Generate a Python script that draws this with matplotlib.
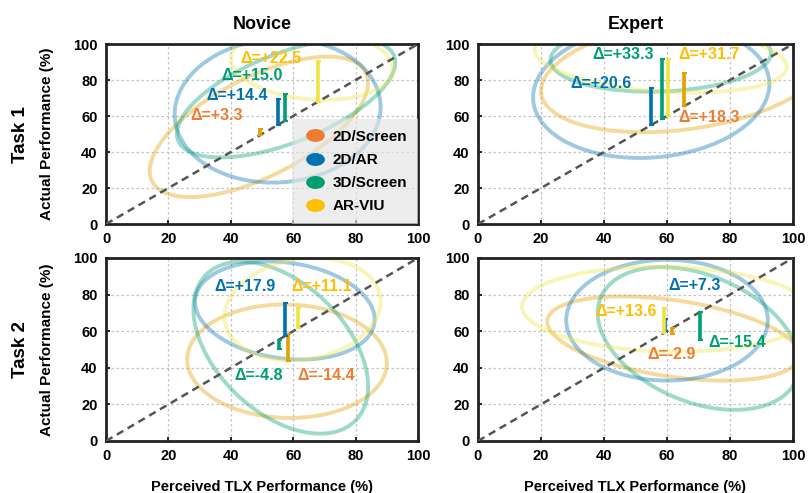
import matplotlib
matplotlib.use("Agg")
import matplotlib.pyplot as plt
import numpy as np
from matplotlib.patches import Ellipse
from matplotlib.path import Path
from matplotlib.lines import Line2D

plt.rcParams['font.family'] = ['Liberation Sans', 'DejaVu Sans']
plt.rcParams['font.weight'] = 'bold'

# groups and colours
groups = ['2D/Screen', '2D/AR', '3D/Screen', 'AR-VIU']
mark_colors = ['#E69F00', '#0072B2', '#009E73', '#F0E442']
text_colors = ['#EE7D31', '#0072B2', '#009E73', '#FFBF00']

# mean perceived (x) and actual (y) performance per panel
nov1_perc = [49.5, 55.2, 57.5, 68.0]
nov1_act = [52.8, 69.6, 72.5, 90.5]
exp1_perc = [65.5, 54.8, 58.5, 60.2]
exp1_act = [83.8, 75.4, 91.8, 91.9]
nov2_perc = [58.2, 57.3, 55.3, 61.5]
nov2_act = [43.8, 75.2, 50.5, 72.6]
exp2_perc = [61.5, 59.5, 70.5, 59.0]
exp2_act = [58.6, 66.8, 55.1, 72.6]

nov1_delta = ['+3.3', '+14.4', '+15.0', '+22.5']
exp1_delta = ['+18.3', '+20.6', '+33.3', '+31.7']
nov2_delta = ['-14.4', '+17.9', '-4.8', '+11.1']
exp2_delta = ['-2.9', '+7.3', '-15.4', '+13.6']

# spread ellipses: centre x, centre y, sd x, sd y, correlation
nov1_ell = [(49, 54, 35, 39, 0.63), (55, 63, 33, 40, 0.05),
            (57.7, 70, 35, 33, 0.6), (66, 89, 26, 20, -0.15)]
exp1_ell = [(65, 83, 45, 32, 0.28), (55, 74, 37.5, 37.3, 0.1),
            (58, 93, 35, 19.5, 0.1), (58, 92, 40, 19, -0.25)]
nov2_ell = [(58, 43.6, 32, 31, -0.03), (57.3, 71.3, 28.8, 26.8, -0.18),
            (56, 51, 28, 47, -0.45), (63, 72, 25, 28, 0.15)]
exp2_ell = [(62, 56, 40, 23, -0.4), (60, 66, 32, 33, 0.0),
            (70, 56, 32, 39, -0.36), (60, 72, 46, 23.2, -0.07)]

# where the delta labels go
nov1_txt = [(35.4, 60.5), (41.9, 71.5), (46.9, 82.4), (52.8, 92)]
exp1_txt = [(73.2, 59), (39, 78), (46, 94), (73.2, 94)]
nov2_txt = [(70.5, 35.8), (44.7, 84.5), (49, 35.8), (69, 84.5)]
exp2_txt = [(61.5, 47.5), (68.7, 84.9), (82.3, 53.6), (47.1, 70.9)]

panels = [
    (nov1_perc, nov1_act, nov1_delta, nov1_ell, nov1_txt),
    (exp1_perc, exp1_act, exp1_delta, exp1_ell, exp1_txt),
    (nov2_perc, nov2_act, nov2_delta, nov2_ell, nov2_txt),
    (exp2_perc, exp2_act, exp2_delta, exp2_ell, exp2_txt),
]

fig = plt.figure(figsize=(8.1, 4.93), dpi=100)
rects = [[0.1309, 0.5456, 0.3852, 0.3651], [0.5901, 0.5456, 0.3889, 0.3651],
         [0.1309, 0.1055, 0.3852, 0.3712], [0.5901, 0.1055, 0.3889, 0.3712]]
axes = [fig.add_axes(r) for r in rects]


def cov_ellipse(cx, cy, sx, sy, rho, color):
    cov = np.array([[sx * sx, rho * sx * sy], [rho * sx * sy, sy * sy]])
    vals, vecs = np.linalg.eigh(cov)
    ang = np.degrees(np.arctan2(vecs[1, 1], vecs[0, 1]))
    return Ellipse((cx, cy), 2 * np.sqrt(vals[1]), 2 * np.sqrt(vals[0]),
                   angle=ang, fill=False, edgecolor=color, lw=2.8, alpha=0.38,
                   zorder=2)


for i, (ax, (perc, act, delta, ell, txt)) in enumerate(zip(axes, panels)):
    ax.set_xlim(0, 100)
    ax.set_ylim(0, 100)
    ax.set_xticks(range(0, 101, 20))
    ax.set_yticks(range(0, 101, 20))
    ax.grid(True, color='#c4c4c4', linestyle=(0, (2, 2)), linewidth=0.9)
    ax.set_axisbelow(True)
    ax.tick_params(direction='in', length=3, width=1.2, labelsize=10.5, pad=6)
    for s in ax.spines.values():
        s.set_linewidth(2.0)
        s.set_color('#222222')

    for g in range(4):
        ax.add_patch(cov_ellipse(*ell[g], mark_colors[g]))

    ax.plot([0, 100], [0, 100], color='#555555', lw=1.8,
            linestyle=(0, (3, 2)), zorder=3)

    for g in range(4):
        mid = (perc[g] + act[g]) / 2
        half = abs(act[g] - perc[g]) / 2
        ax.errorbar(perc[g], mid, yerr=half, fmt='none', ecolor=mark_colors[g],
                    elinewidth=2.6, capsize=1.8, capthick=1.5, zorder=4)
        ax.text(txt[g][0], txt[g][1], '\u0394=' + delta[g], color=text_colors[g],
                fontsize=11.5, fontweight='bold', ha='center', va='center',
                zorder=5)

    if i % 2 == 0:
        ax.set_ylabel('Actual Performance (%)', fontsize=11, fontweight='bold')
        ax.yaxis.set_label_coords(-0.167, 0.5)
    if i >= 2:
        ax.set_xlabel('Perceived TLX Performance (%)', fontsize=10.5,
                      fontweight='bold')
        ax.xaxis.set_label_coords(0.5, -0.215)

axes[0].set_title('Novice', fontsize=13, fontweight='bold', pad=11)
axes[1].set_title('Expert', fontsize=13, fontweight='bold', pad=11)
fig.text(0.025, 0.545 + 0.3651 / 2, 'Task 1', rotation=90, fontsize=13.5,
         fontweight='bold', ha='center', va='center')
fig.text(0.025, 0.1055 + 0.3712 / 2, 'Task 2', rotation=90, fontsize=13.5,
         fontweight='bold', ha='center', va='center')

# legend with oval markers
oval = Path.unit_circle().transformed(matplotlib.transforms.Affine2D().scale(1.45, 1.0))
handles = [Line2D([], [], linestyle='none', marker=oval, markersize=13.5,
                  markerfacecolor=c, markeredgecolor='none')
           for c in text_colors]
leg = axes[0].legend(handles, groups, loc='lower right', borderaxespad=0.0,
                     fancybox=False, frameon=True, fontsize=11,
                     handletextpad=0.35, labelspacing=0.6, borderpad=0.7,
                     handlelength=1.6)
leg.get_frame().set_facecolor('#e4e4e4')
leg.get_frame().set_edgecolor('none')
leg.get_frame().set_alpha(0.65)
leg.set_zorder(6)

fig.savefig('out.png', dpi=100)
